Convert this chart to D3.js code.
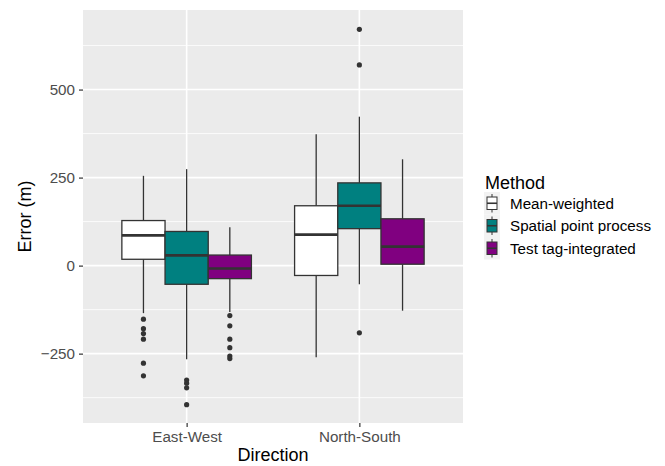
<!DOCTYPE html>
<html>
<head>
<meta charset="utf-8">
<script src="https://cdn.jsdelivr.net/npm/d3@7"></script>
<style>
  body { margin: 0; background: #fff; }
  svg { display: block; font-family: "Liberation Sans", Arial, sans-serif; }
</style>
</head>
<body>
<div id="chart"></div>
<script>
// Boxplot of location error by direction and method

const directions = ["East-West", "North-South"];
const methods = ["Mean-weighted", "Spatial point process", "Test tag-integrated"];
const fills = ["#ffffff", "#008080", "#800080"];

// box stats, rows = direction, columns = method
const whiskerLow = [[-135, -266, -132], [-260, -53, -128]];
const quart1 = [[18, -53, -37], [-28, 105, 4]];
const medians = [[86, 29, -8], [88, 170, 54]];
const quart3 = [[128, 97, 30], [170, 235, 133]];
const whiskerHigh = [[255, 274, 109], [373, 423, 302]];
const outliers = [
  [[-152, -179, -193, -209, -277, -313], [-325, -334, -347, -395], [-142, -171, -209, -233, -257, -264]],
  [[], [671, 570, -191], []]
];

const yTicks = [-250, 0, 250, 500];
const yMinor = [-375, -125, 125, 375, 625];

const width = 665, height = 466;
const panel = { left: 83, right: 463, top: 10, bottom: 423 };
const smallFont = "15.2px";

const svg = d3.select("#chart").append("svg")
  .attr("width", width)
  .attr("height", height);

const x = d3.scalePoint()
  .domain(directions)
  .range([panel.left, panel.right])
  .padding(0.6);

const dodge = d3.scaleBand()
  .domain(methods)
  .range([-0.375 * x.step(), 0.375 * x.step()]);

const y = d3.scaleLinear()
  .domain([-447, 726])
  .range([panel.bottom, panel.top]);

// panel background + grid
svg.append("rect")
  .attr("x", panel.left).attr("y", panel.top)
  .attr("width", panel.right - panel.left)
  .attr("height", panel.bottom - panel.top)
  .attr("fill", "#ebebeb");

svg.append("g").selectAll("line")
  .data(yMinor)
  .join("line")
    .attr("x1", panel.left).attr("x2", panel.right)
    .attr("y1", d => y(d)).attr("y2", d => y(d))
    .attr("stroke", "#fff").attr("stroke-width", 0.8);

svg.append("g").selectAll("line")
  .data(yTicks)
  .join("line")
    .attr("x1", panel.left).attr("x2", panel.right)
    .attr("y1", d => y(d)).attr("y2", d => y(d))
    .attr("stroke", "#fff").attr("stroke-width", 1.6);

svg.append("g").selectAll("line")
  .data(directions)
  .join("line")
    .attr("x1", d => x(d)).attr("x2", d => x(d))
    .attr("y1", panel.top).attr("y2", panel.bottom)
    .attr("stroke", "#fff").attr("stroke-width", 1.6);

// build box records from the arrays
const boxes = [];
directions.forEach((dir, i) => {
  methods.forEach((m, j) => {
    boxes.push({
      dir, m, fill: fills[j],
      lo: whiskerLow[i][j], q1: quart1[i][j], med: medians[i][j],
      q3: quart3[i][j], hi: whiskerHigh[i][j], out: outliers[i][j]
    });
  });
});

const stroke = "#333333";
const bw = dodge.bandwidth();

const gb = svg.append("g").selectAll("g")
  .data(boxes)
  .join("g")
    .attr("transform", d => `translate(${x(d.dir) + dodge(d.m)},0)`);

// whiskers
gb.append("line")
  .attr("x1", bw / 2).attr("x2", bw / 2)
  .attr("y1", d => y(d.hi)).attr("y2", d => y(d.q3))
  .attr("stroke", stroke).attr("stroke-width", 1.3);
gb.append("line")
  .attr("x1", bw / 2).attr("x2", bw / 2)
  .attr("y1", d => y(d.q1)).attr("y2", d => y(d.lo))
  .attr("stroke", stroke).attr("stroke-width", 1.3);

// boxes
gb.append("rect")
  .attr("x", 0).attr("width", bw)
  .attr("y", d => y(d.q3))
  .attr("height", d => y(d.q1) - y(d.q3))
  .attr("fill", d => d.fill)
  .attr("stroke", stroke).attr("stroke-width", 1.3);

// medians
gb.append("line")
  .attr("x1", 0).attr("x2", bw)
  .attr("y1", d => y(d.med)).attr("y2", d => y(d.med))
  .attr("stroke", stroke).attr("stroke-width", 2.6);

// outliers
gb.selectAll("circle")
  .data(d => d.out)
  .join("circle")
    .attr("cx", bw / 2)
    .attr("cy", d => y(d))
    .attr("r", 2.6)
    .attr("fill", stroke);

// axes
const yAxis = svg.append("g")
  .attr("transform", `translate(${panel.left},0)`)
  .call(d3.axisLeft(y).tickValues(yTicks).tickSize(4).tickPadding(4)
    .tickFormat(d => d < 0 ? "\u2212" + Math.abs(d) : d));
yAxis.select(".domain").remove();
yAxis.selectAll("line").attr("stroke", "#333").attr("stroke-width", 1.2);
yAxis.selectAll("text").attr("fill", "#4d4d4d").style("font-size", smallFont)
  .style("font-family", "Liberation Sans, Arial, sans-serif");

const xAxis = svg.append("g")
  .attr("transform", `translate(0,${panel.bottom})`)
  .call(d3.axisBottom(x).tickSize(4).tickPadding(4));
xAxis.select(".domain").remove();
xAxis.selectAll("line").attr("stroke", "#333").attr("stroke-width", 1.2);
xAxis.selectAll("text").attr("fill", "#4d4d4d").style("font-size", smallFont)
  .style("font-family", "Liberation Sans, Arial, sans-serif");

// axis titles
svg.append("text")
  .attr("x", (panel.left + panel.right) / 2)
  .attr("y", 461)
  .attr("text-anchor", "middle")
  .attr("fill", "#000")
  .style("font-size", "18px")
  .text("Direction");

svg.append("text")
  .attr("transform", `translate(31,${(panel.top + panel.bottom) / 2}) rotate(-90)`)
  .attr("text-anchor", "middle")
  .attr("fill", "#000")
  .style("font-size", "18px")
  .text("Error (m)");

// legend
const legend = svg.append("g").attr("transform", "translate(484,0)");

legend.append("text")
  .attr("x", 1).attr("y", 189)
  .attr("fill", "#000")
  .style("font-size", "18px")
  .text("Method");

const keys = legend.selectAll("g.key")
  .data(methods)
  .join("g")
    .attr("class", "key")
    .attr("transform", (d, i) => `translate(0,${192 + i * 22.5})`);

keys.append("rect")
  .attr("width", 16).attr("height", 22.5)
  .attr("fill", "#f2f2f2");
keys.append("line")
  .attr("x1", 8).attr("x2", 8).attr("y1", 2).attr("y2", 20.5)
  .attr("stroke", stroke).attr("stroke-width", 1);
keys.append("rect")
  .attr("x", 3).attr("y", 5).attr("width", 10).attr("height", 12.5)
  .attr("fill", (d, i) => fills[i])
  .attr("stroke", stroke).attr("stroke-width", 1);
keys.append("line")
  .attr("x1", 3).attr("x2", 13).attr("y1", 11.25).attr("y2", 11.25)
  .attr("stroke", stroke).attr("stroke-width", 1.6);

keys.append("text")
  .attr("x", 26).attr("y", 11.25)
  .attr("dy", "0.35em")
  .attr("fill", "#000")
  .style("font-size", smallFont)
  .text(d => d);
</script>
</body>
</html>
